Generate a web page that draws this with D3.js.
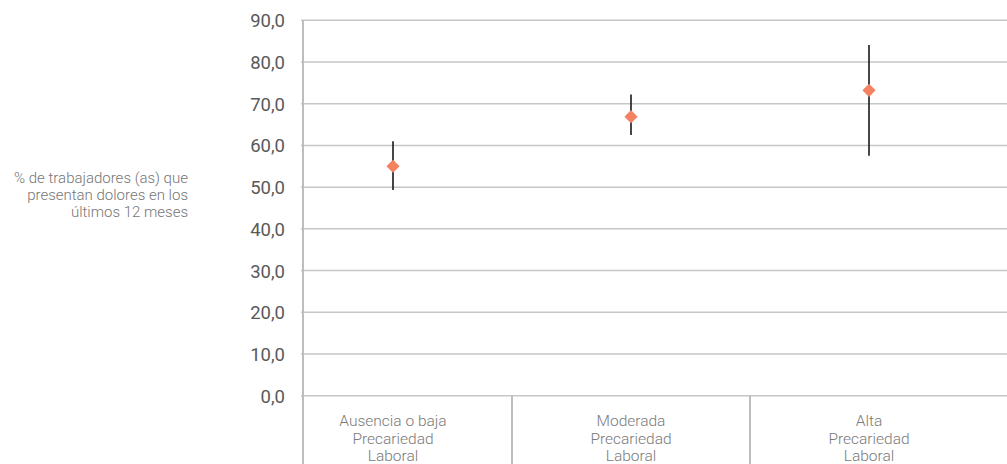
<!DOCTYPE html>
<html>
<head>
<meta charset="utf-8">
<script src="https://cdn.jsdelivr.net/npm/d3@7"></script>
<style>
  html, body { margin: 0; padding: 0; background: #fff; }
  svg { display: block; }
  text { font-family: Roboto, "Open Sans", "Liberation Sans", sans-serif; }
</style>
</head>
<body>
<svg id="chart" width="1007" height="464"></svg>
<script>
// Nivel de precariedad laboral
const categories = [
  ["Ausencia o baja", "Precariedad", "Laboral"],
  ["Moderada", "Precariedad", "Laboral"],
  ["Alta", "Precariedad", "Laboral"]
];
// Porcentaje estimado y su intervalo de confianza
const estimate = [55.0, 66.9, 73.2];
const lower    = [49.3, 62.5, 57.5];
const upper    = [61.0, 72.2, 84.1];
const yTicks   = [0, 10, 20, 30, 40, 50, 60, 70, 80, 90];
const yTitle   = ["% de trabajadores (as) que", "presentan dolores en los", "últimos 12 meses"];

const W = 1007, H = 464;
const svg = d3.select("#chart");

const plotTop = 20.3, plotBottom = 395.7;
const axisX = 303;

const keys = categories.map((c, i) => "c" + i);
const x = d3.scaleBand().domain(keys).range([274, 274 + 238 * 3]).padding(0);
const y = d3.scaleLinear().domain([0, 90]).range([plotBottom, plotTop]);

const esCL = d3.formatLocale({ decimal: ",", thousands: ".", grouping: [3], currency: ["", "€"] });
const fmt = esCL.format(".1f");

// Horizontal gridlines
svg.append("g")
  .selectAll("line")
  .data(yTicks)
  .join("line")
  .attr("x1", axisX - 2).attr("x2", W)
  .attr("y1", d => y(d)).attr("y2", d => y(d))
  .attr("stroke", "#c6c6c6")
  .attr("stroke-width", 1.5);

// Y axis labels
const yAxis = d3.axisLeft(y).tickValues(yTicks).tickFormat(fmt).tickSize(0).tickPadding(0);
const gy = svg.append("g").attr("transform", `translate(285,0)`).call(yAxis);
gy.select(".domain").remove();
gy.selectAll("text")
  .attr("fill", "#595959")
  .style("font-size", "18.5px")
  .attr("dy", "0.35em");

// Vertical axis line and category separators
svg.append("line")
  .attr("x1", axisX).attr("x2", axisX)
  .attr("y1", plotTop).attr("y2", H)
  .attr("stroke", "#bdbdbd").attr("stroke-width", 2);

svg.append("g")
  .selectAll("line")
  .data(keys.slice(1))
  .join("line")
  .attr("x1", d => x(d)).attr("x2", d => x(d))
  .attr("y1", plotBottom).attr("y2", H)
  .attr("stroke", "#bdbdbd").attr("stroke-width", 2);

// Category labels
const catG = svg.append("g");
categories.forEach((lines, i) => {
  const cx = x(keys[i]) + x.bandwidth() / 2;
  const t = catG.append("text")
    .attr("x", cx)
    .attr("y", 426)
    .attr("text-anchor", "middle")
    .attr("fill", "#7a7a7a")
    .style("font-size", "15.5px")
    .style("font-weight", 300);
  lines.forEach((ln, j) => {
    t.append("tspan").attr("x", cx).attr("dy", j === 0 ? 0 : 17.5).text(ln);
  });
});

// Error bars
const cxs = keys.map(k => x(k) + x.bandwidth() / 2);
svg.append("g")
  .selectAll("line")
  .data(estimate.map((v, i) => i))
  .join("line")
  .attr("x1", i => cxs[i]).attr("x2", i => cxs[i])
  .attr("y1", i => y(upper[i])).attr("y2", i => y(lower[i]))
  .attr("stroke", "#262626")
  .attr("stroke-width", 1.7);

// Diamond markers
const diamond = d3.symbol().type(d3.symbolDiamond2).size(110);
svg.append("g")
  .selectAll("path")
  .data(estimate)
  .join("path")
  .attr("d", diamond)
  .attr("transform", (d, i) => `translate(${cxs[i]},${y(d)})`)
  .attr("fill", "#f4815f");

// Y axis title
const tt = svg.append("text")
  .attr("x", 188)
  .attr("y", 182.5)
  .attr("text-anchor", "end")
  .attr("fill", "#767676")
  .style("font-size", "15px")
  .style("font-weight", 300);
yTitle.forEach((ln, j) => {
  tt.append("tspan").attr("x", 188).attr("dy", j === 0 ? 0 : 17).text(ln);
});
</script>
</body>
</html>
